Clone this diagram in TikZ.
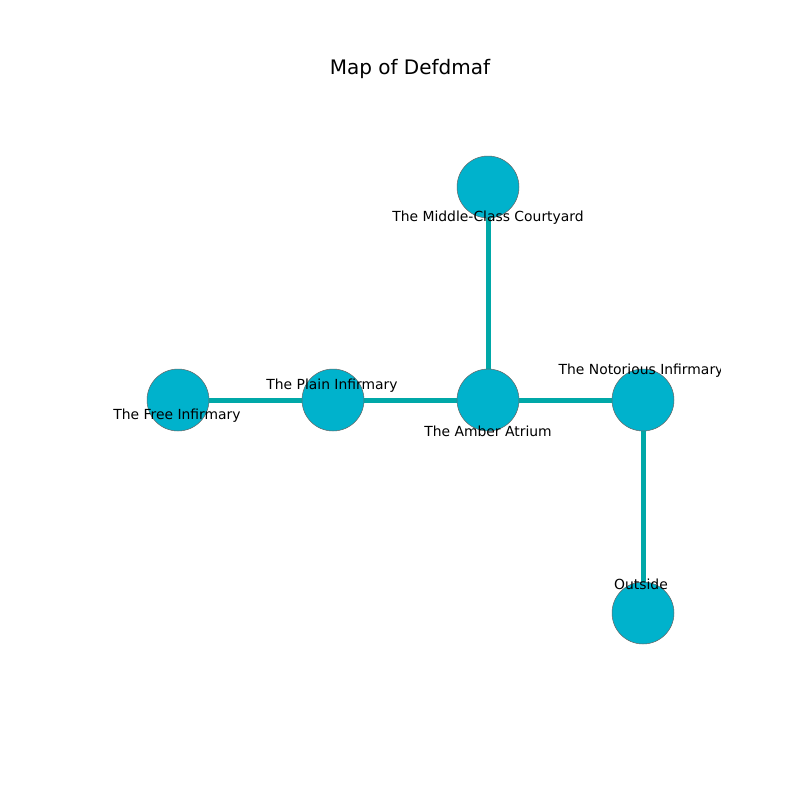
\documentclass[tikz,border=0pt]{standalone}
\usepackage{fontspec}
\setmainfont{DejaVu Sans}
\usetikzlibrary{backgrounds}
\definecolor{edgec}{HTML}{00A8A8}
\definecolor{nodec}{HTML}{00B2CC}
\tikzset{
  room/.style={circle, fill=nodec, draw=black!60, line width=0.5pt, minimum size=62pt, inner sep=0pt},
  link/.style={edgec, line width=5pt},
  lbl/.style={font=\fontsize{13.9pt}{16pt}\selectfont, inner sep=0pt, anchor=center}
}
\begin{document}
\begin{tikzpicture}[x=1pt,y=-1pt]
\useasboundingbox (0,0) rectangle (800,800);
\node[font=\fontsize{20pt}{23pt}\selectfont, inner sep=0pt] (title) at (410,69) {Map of Defdmaf};
\node[room] (mc) at (488,187) {};
\node[room] (free) at (178,400) {};
\node[room] (plain) at (333,400) {};
\node[room] (amber) at (488,400) {};
\node[room] (noto) at (643,400) {};
\node[room] (out) at (643,613) {};
\begin{pgfonlayer}{background}
\fill[white] (0,0) rectangle (800,800);
\draw[link] (mc.center) -- (amber.center);
\draw[link] (free.center) -- (plain.center);
\draw[link] (plain.center) -- (amber.center);
\draw[link] (amber.center) -- (noto.center);
\draw[link] (noto.center) -- (out.center);
\end{pgfonlayer}
\begin{scope}
\clip (100,96) rectangle (720,712);
\node[lbl] (lmc) at (488,218) {The Middle-Class Courtyard};
\node[lbl] (lfree) at (177,416) {The Free Infirmary};
\node[lbl] (lplain) at (332,386) {The Plain Infirmary};
\node[lbl] (lamber) at (488,431) {The Amber Atrium};
\node[lbl] (lnoto) at (641,371) {The Notorious Infirmary};
\node[lbl] (lout) at (641,584) {Outside};
\end{scope}
\end{tikzpicture}
\end{document}
